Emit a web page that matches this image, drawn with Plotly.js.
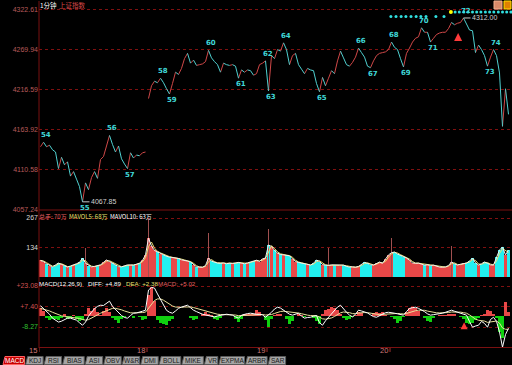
<!DOCTYPE html>
<html><head><meta charset="utf-8">
<script src="https://cdn.plot.ly/plotly-3.0.1.min.js"></script>
<style>html,body{margin:0;padding:0;background:#000;}#chart{width:512px;height:365px;}</style>
</head><body><div id="chart"></div>
<script>
// ---------- DATA ----------
const dayLabels = ['15', '18', '19', '20'];
const price15 = [4141,4147,4141,4143,4137,4134,4112,4127,4117,4121,4102,4108,4098,4088,4067.85,4093,4084,4100,4108,4099,4124,4128,4142,4156,4144,4134,4142,4125,4118,4112,4133,4126,4130,4129,4133,4134];
const price18 = [4205,4222,4228,4226,4232,4226,4218,4211,4225,4240,4237,4245,4258,4265,4252,4256,4249,4250,4251,4254,4269,4259,4254,4250,4240,4252,4250,4249,4250,4248,4232,4243,4240,4243,4242,4236,4238,4250,4252,4255];
const price19 = [4215,4262,4258,4270,4268,4279,4270,4250,4262,4265,4250,4244,4238,4245,4243,4242,4225,4214,4233,4222,4232,4242,4238,4255,4268,4259,4250,4248,4253,4260,4272,4266,4260,4248,4246,4255,4262,4265,4266,4267,4270];
const price20 = [4280,4273,4270,4258,4247,4265,4272,4280,4285,4287,4299,4293,4293,4280,4285,4290,4292,4293,4293,4298,4306,4303,4305,4306,4312.00,4304,4296,4295,4266,4276,4270,4262,4248,4260,4270,4262,4239,4168,4218,4184];

const vol15 = [75,70,60,52,46,55,63,57,50,45,50,54,60,66,86,62,52,46,48,52,55,66,77,70,63,55,47,46,52,55,54,54,58,63,75,100];
const vol18 = [176,140,120,113,105,100,94,90,88,86,84,78,76,72,68,56,46,45,44,52,86,72,66,63,62,64,60,63,61,64,66,63,60,64,68,72,76,70,82,86];
const vol19 = [145,138,120,108,102,100,98,96,82,70,66,63,60,55,54,62,77,70,56,54,52,55,54,56,52,54,48,45,46,44,48,56,66,62,56,54,62,68,62,80,100];
const vol20 = [110,113,104,98,92,86,76,64,62,63,58,54,55,52,54,48,45,44,46,52,68,60,54,58,62,63,72,86,64,54,60,68,62,55,54,90,122,136,100,122];
const openSpikeIdx = [15,36,56,76,96,117,137];
const openSpikeVol = [131,267,199,217,131,176,140];

const diff15 = [8,6,3.5,1.5,-1.5,-3,-4.5,-3.8,-2.5,-1.5,-1.5,-2,-3,-5,-6.9,-4.5,0,3,5.8,7.5,8.4,8.2,10,11.5,7.5,5,3,0.5,-1,-1.5,0.5,2.3,2.5,3,3.8,4.6];
const diff18 = [20,22,21.5,17,12.5,8,4.5,3,2.3,4,6,7,7.8,8.4,6.5,4.6,3.5,2.4,1.5,1,0.5,-0.5,-0.6,0.2,0.8,1.2,1.5,1.2,0.8,-0.5,-1.5,0.8,1.5,2,2.3,1.8,1.5,1.5,1,-0.8];
const diff19 = [1,3,5.5,6.9,6.2,4.5,3,1.5,0.8,1.5,2.3,0,-1.5,-1,-0.8,0,0.5,-5,-6.9,-3.5,-1,1.5,4,7,8.4,5.5,3,0.8,-0.5,1.5,4.6,4,3.2,2.5,1,-0.3,-0.8,0.5,2,2.7,3];
const diff20 = [2.8,2.3,1.8,1.2,0.8,3.5,6,6.5,6.9,6,5,3.5,1.8,0.8,1.2,1.5,2,2.3,3,3.8,4.6,3.8,3,2,1.2,0.8,-4,-8.4,-7.5,-6.9,-4,-5.5,-8.4,-2.5,-0.8,-4,-12,-23.7,-14,-9.2];

const dea15 = [6,5.5,4.8,4,3,2,1,0.3,-0.2,-0.5,-0.7,-0.9,-1.2,-1.7,-2.5,-3,-2.6,-1.6,-0.3,1,2.3,3.3,4.4,5.6,6,6,5.6,4.9,4,3.1,2.6,2.5,2.5,2.6,2.8,3.1];
const dea18 = [6.4,9.5,12,13.2,13.2,12.2,10.7,9.2,7.8,7,6.8,6.8,7,7.3,7.1,6.6,6,5.3,4.5,3.8,3.1,2.4,1.8,1.5,1.3,1.3,1.3,1.3,1.2,0.9,0.4,0.5,0.7,1,1.3,1.4,1.4,1.4,1.3,0.9];
const dea19 = [0.9,1.3,2.1,3,3.6,3.8,3.6,3.2,2.7,2.5,2.4,1.9,1.2,0.8,0.5,0.4,0.4,-0.7,-2,-2.3,-2,-1.3,-0.2,1.2,2.6,3.2,3.2,2.7,2,1.9,2.4,2.7,2.8,2.7,2.4,1.9,1.4,1.2,1.4,1.6,1.9];
const dea20 = [2.1,2.1,2.1,1.9,1.7,2.1,2.9,3.6,4.2,4.6,4.7,4.5,3.9,3.3,2.9,2.6,2.5,2.5,2.6,2.8,3.2,3.3,3.3,3.1,2.7,2.3,1,-0.9,-2.2,-3.1,-3.3,-3.7,-4.7,-4.3,-3.6,-3.7,-5.3,-9,-10,-10];

const hist15 = [6,4,-1,-3,-2.5,-2,-3,-1,1.5,-2,-1.5,1,-2.5,-3.5,-3,2,6,4,6.5,3,1,4,6,3,-1,-3,-5.5,-2,-0.5,0.5,0.5,-1,0,-0.5,-3,-2];
const hist18 = [16,22,12,-3,-5,-6,-7,-4,-2,0,0.5,0.3,0.5,0.3,-1,-3,-2.5,0.5,2,3,2,1,-2.5,-3,-1,0.5,0.3,0.5,0,-2,-4.5,-2,1.5,2,1.5,1.5,4.6,3,0.5,-3];
const hist19 = [-8.4,-2,1,2,1.5,0.5,-2,-6,-4,0.5,1.5,1,-0.5,0,0.3,-1,-4,-6,1.5,5,5.5,6.9,6.5,5,2,-1.5,-3,-2.5,-0.5,1,3,2.5,0.5,0,0.5,2.5,3.5,2.5,3,1,0];
const hist20 = [-0.5,-2,-5.5,-4,-0.5,3,6,7,6.5,4,0.5,-1,-4,-4.6,-1,0.5,1,0.8,1.2,1.5,2,1.5,0.5,-0.5,-2,-5,-6,-5.5,-3,-1,1,2,4.6,4,2,-1,-12,-16.8,10.7,3];

const priceTicks = [4057.24, 4110.58, 4163.92, 4216.59, 4269.94, 4322.61];
const volTicks = [134, 267];
const macdTicks = [23.08, 7.40, -8.27];
const macdTickText = ['+23.08', '+7.40', '-8.27'];

const waveNo  = [54,55,56,57,58,59,60,61,62,63,64,65,66,67,68,69,70,71,72,73,74];
const waveIdx = [1,14,23,29,40,43,56,66,75,76,81,93,106,110,117,121,127,130,141,149,151];

const sigUpper = [138.2,139.6,141.1,142.5,144,145.4,146.8,148.3,149.7,151.1,152.6,154,155.4,156.8];
const sigLower = [116.8,118.5,120.2,121.8,123.5,125.2,126.8,128.5,131.8,134.5];
const sigYellow = [136.8];
const sigUpperLevel = 4319.9, sigLowerLevel = 4314.0;
const buyArrowIdx = 139.2, buyArrowPrice = 4292;
const macdArrowIdx = 141.2, macdArrowVal = -4.6;

const tabNames = ['MACD','KDJ','RSI','BIAS','ASI','OBV','W&R','DMI','BOLL','MIKE','VR','EXPMA','ARBR','SAR'];

// ---------- BUILD ----------
const price = price15.concat(price18, price19, price20);
const vol = vol15.concat(vol18, vol19, vol20);
const diff = diff15.concat(diff18, diff19, diff20);
const dea = dea15.concat(dea18, dea19, dea20);
const hist = hist15.concat(hist18, hist19, hist20);
const N = price.length;
const xs = price.map((_, i) => i);
const dayStart = [0, price15.length, price15.length + price18.length, price15.length + price18.length + price19.length];
const breakAfter = [dayStart[1] - 1];

const RED = '#d04848', CYAN = '#4fd0d0';
const upX = [], upY = [], dnX = [], dnY = [];
for (let i = 0; i < N - 1; i++) {
  if (breakAfter.includes(i)) continue;
  const up = price[i + 1] >= price[i];
  (up ? upX : dnX).push(i, i + 1, null);
  (up ? upY : dnY).push(price[i], price[i + 1], null);
}
const volColors = vol.map((v, i) => (i === 0 || price[i] >= price[i - 1]) ? '#e84848' : '#22f0f0');
const ma10 = vol.map((v, i) => i === 0 ? v : (v + vol[i - 1]) / 2);
const histColors = hist.map(v => v >= 0 ? '#e84848' : '#10d010');

const W = 512, H = 365, L = 39;
const px = x => (x - L) / (W - L);
const py = y => 1 - y / H;

const fNum = 'Liberation Sans, Arial, sans-serif';
const fCJK = 'Noto Sans CJK SC, sans-serif';

const traces = [
  {x: upX, y: upY, type: 'scatter', mode: 'lines', line: {color: RED, width: 1}, xaxis: 'x', yaxis: 'y', connectgaps: false},
  {x: dnX, y: dnY, type: 'scatter', mode: 'lines', line: {color: CYAN, width: 1}, xaxis: 'x', yaxis: 'y', connectgaps: false},
  {x: sigUpper, y: sigUpper.map(() => sigUpperLevel), type: 'scatter', mode: 'markers', marker: {color: '#30e0e0', size: 3}, xaxis: 'x', yaxis: 'y'},
  {x: sigLower, y: sigLower.map(() => sigLowerLevel), type: 'scatter', mode: 'markers', marker: {color: '#30e0e0', size: 3}, xaxis: 'x', yaxis: 'y'},
  {x: sigYellow, y: sigYellow.map(() => sigUpperLevel), type: 'scatter', mode: 'markers', marker: {color: '#ffff00', size: 4}, xaxis: 'x', yaxis: 'y'},
  {x: [buyArrowIdx], y: [buyArrowPrice], type: 'scatter', mode: 'markers', marker: {symbol: 'arrow-up', color: '#ff3a3a', size: 8}, xaxis: 'x', yaxis: 'y'},
  {x: xs, y: vol, type: 'bar', marker: {color: volColors, line: {width: 0}}, width: 0.8, xaxis: 'x2', yaxis: 'y2'},
  {x: openSpikeIdx, y: openSpikeVol, type: 'bar', marker: {color: '#a05050', line: {width: 0}}, width: 0.35, xaxis: 'x2', yaxis: 'y2'},
  {x: xs, y: ma10, type: 'scatter', mode: 'lines', line: {color: '#e8e070', width: 1}, xaxis: 'x2', yaxis: 'y2'},
  {x: xs, y: vol, type: 'scatter', mode: 'lines', line: {color: '#f0f0f0', width: 1}, xaxis: 'x2', yaxis: 'y2'},
  {x: xs, y: hist, type: 'bar', marker: {color: histColors, line: {width: 0}}, width: 1, xaxis: 'x3', yaxis: 'y3'},
  {x: xs, y: dea, type: 'scatter', mode: 'lines', line: {color: '#e8e09a', width: 1}, xaxis: 'x3', yaxis: 'y3'},
  {x: xs, y: diff, type: 'scatter', mode: 'lines', line: {color: '#ffffff', width: 1}, xaxis: 'x3', yaxis: 'y3'},
  {x: [macdArrowIdx], y: [macdArrowVal], type: 'scatter', mode: 'markers', marker: {symbol: 'arrow-up', color: '#ff3a3a', size: 7}, xaxis: 'x3', yaxis: 'y3'}
];

const annotations = [];
const shapes = [];
const lineCol = '#7a1010';
function label(x, y, text, size, color, family) {
  annotations.push({xref: 'paper', yref: 'paper', x: px(x), y: py(y), xanchor: 'left', yanchor: 'middle', showarrow: false,
    text: text, borderpad: 0, font: {family: family || fNum, size: size, color: color}});
}
// headers
label(39, 5.5, '1分钟', 6.5, '#ffffff', fCJK);
label(58, 5.5, '上证指数', 6.5, '#d84848', fCJK);
label(38, 216, '总手: 70万', 6, '#e06060', fCJK);
label(68, 216, 'MAVOL5: 68万', 6, '#e8e070', fCJK);
label(109, 216, 'MAVOL10: 63万', 6, '#ffffff', fCJK);
label(38, 283, 'MACD(12,26,9)', 6.2, '#ffffff');
label(87, 283, 'DIFF: +4.89', 6.2, '#ffffff');
label(125, 283, 'DEA: +2.38', 6.2, '#e8e070');
label(157, 283, 'MACD: +5.02', 6.2, '#e06060');

// wave labels
waveIdx.forEach((idx, k) => {
  const high = price[idx] > (price[idx - 1] + price[idx + 1]) / 2;
  annotations.push({xref: 'x', yref: 'y', x: idx, y: price[idx], xshift: 2, yshift: high ? 7 : -6, showarrow: false, borderpad: 0,
    text: String(waveNo[k]), font: {family: 'DejaVu Sans, sans-serif', size: 7, color: '#40d8d8', weight: 'bold'}});
});
// extreme labels
let hi = 0, lo = 0;
price.forEach((p, i) => { if (p > price[hi]) hi = i; if (p < price[lo]) lo = i; });
[lo, hi].forEach(i => {
  annotations.push({xref: 'x', yref: 'y', x: i, y: price[i], ax: 7, ay: 0, showarrow: true, arrowhead: 0, arrowwidth: 1, arrowcolor: '#c8c8c8',
    xanchor: 'left', text: price[i].toFixed(2), font: {family: fNum, size: 7, color: '#d0d0d0'}, borderpad: 0});
});

// day labels and ticks
dayLabels.forEach((d, k) => {
  const bx = dayStart[k] - 0.5;
  annotations.push({xref: 'x3', yref: 'paper', x: bx, y: py(350), xanchor: 'right', yanchor: 'middle', xshift: -1, showarrow: false, borderpad: 0,
    text: d, font: {family: fNum, size: 7.5, color: '#d07878'}});
  shapes.push({type: 'line', xref: 'x3', yref: 'paper', x0: bx, x1: bx, y0: py(347), y1: py(352), line: {color: '#a03030', width: 1}});
});

// frame lines
shapes.push({type: 'line', xref: 'paper', yref: 'paper', x0: 0, x1: 0, y0: py(1), y1: py(348), line: {color: lineCol, width: 1}});
shapes.push({type: 'line', xref: 'paper', yref: 'paper', x0: 0, x1: 1, y0: py(210), y1: py(210), line: {color: lineCol, width: 1}});
shapes.push({type: 'line', xref: 'paper', yref: 'paper', x0: 0, x1: 1, y0: py(347.5), y1: py(347.5), line: {color: lineCol, width: 1}});

// tabs
let tx = 3;
tabNames.forEach((t, k) => {
  const w = 4.1 * t.length + 5.2;
  const active = k === 0;
  shapes.push({type: 'path', xref: 'paper', yref: 'paper',
    path: `M ${px(tx)} ${py(364.5)} L ${px(tx + 2)} ${py(356.5)} L ${px(tx + w)} ${py(356.5)} L ${px(tx + w)} ${py(364.5)} Z`,
    fillcolor: active ? '#c80000' : '#a4a4a4', line: {color: active ? '#ff6060' : '#5a5a5a', width: 1}});
  annotations.push({xref: 'paper', yref: 'paper', x: px(tx + w / 2 + 1), y: py(360.8), xanchor: 'center', yanchor: 'middle', showarrow: false, borderpad: 0,
    text: t, font: {family: fNum, size: 6.5, color: active ? '#ffffff' : '#1a1a1a'}});
  tx += w + 1;
});

// icons top right
shapes.push({type: 'rect', xref: 'paper', yref: 'paper', x0: px(494), x1: px(502), y0: py(9), y1: py(1), fillcolor: '#d88a6a', line: {color: '#f0b090', width: 1}});
shapes.push({type: 'rect', xref: 'paper', yref: 'paper', x0: px(504), x1: px(511), y0: py(9), y1: py(1), fillcolor: '#e08000', line: {color: '#ffe000', width: 1}});

const gridCommon = {showgrid: true, gridcolor: '#801010', griddash: 'dot', gridwidth: 1, zeroline: false, showline: false, ticks: '', fixedrange: true};
const layout = {
  width: W, height: H, margin: {l: L, r: 0, t: 0, b: 0},
  paper_bgcolor: '#000000', plot_bgcolor: '#000000', showlegend: false, barmode: 'overlay', bargap: 0,
  xaxis: {domain: [0, 1], range: [-0.5, -0.5 + (W - L) / 3], anchor: 'y', showgrid: false, zeroline: false, showticklabels: false, fixedrange: true},
  xaxis2: {matches: 'x', anchor: 'y2', showgrid: false, zeroline: false, showticklabels: false, fixedrange: true},
  xaxis3: {matches: 'x', anchor: 'y3', showgrid: false, zeroline: false, showticklabels: false, fixedrange: true},
  yaxis: Object.assign({}, gridCommon, {domain: [py(210), py(2)], range: [4057.0, 4333.2], tickvals: priceTicks, ticktext: priceTicks.map(v => v.toFixed(2)),
    tickfont: {family: fNum, size: 7, color: '#b85a5a'}}),
  yaxis2: Object.assign({}, gridCommon, {domain: [py(277), py(211)], range: [0, 298.7], tickvals: volTicks, ticktext: volTicks.map(String),
    tickfont: {family: fNum, size: 7, color: '#d8d8d8'}}),
  yaxis3: Object.assign({}, gridCommon, {domain: [py(348), py(278)], range: [-24.3, 29.2], tickvals: macdTicks,
    ticktext: macdTickText.map((t, i) => `<span style="color:${macdTicks[i] < 0 ? '#30c030' : '#d05050'}">${t}</span>`),
    tickfont: {family: fNum, size: 7, color: '#d05050'}}),
  annotations: annotations, shapes: shapes, hovermode: false
};
Plotly.newPlot('chart', traces, layout, {staticPlot: true, displayModeBar: false});
</script></body></html>
